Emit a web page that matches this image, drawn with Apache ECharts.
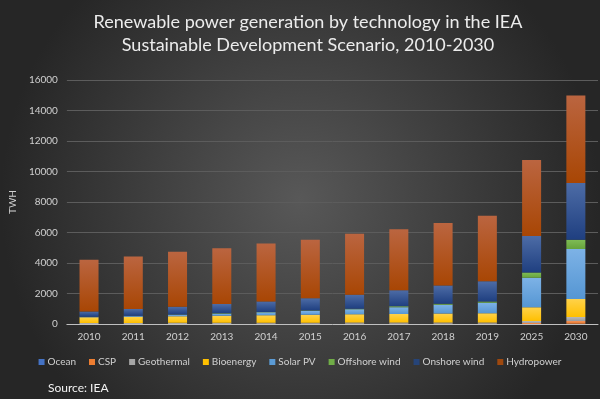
<!DOCTYPE html>
<html><head><meta charset="utf-8">
<script src="https://cdn.jsdelivr.net/npm/echarts@6/dist/echarts.min.js"></script>
<style>html,body{margin:0;padding:0;background:#333;}#c{width:600px;height:399px;}</style>
</head><body><div id="c"></div>
<script>
const years = ['2010','2011','2012','2013','2014','2015','2016','2017','2018','2019','2025','2030'];
const ocean      = [1, 1, 1, 1, 1, 1, 1, 1, 1, 1, 5, 20];
const csp        = [2, 3, 5, 6, 9, 10, 11, 12, 12, 13, 60, 180];
const geothermal = [68, 69, 70, 72, 75, 78, 80, 85, 88, 90, 130, 260];
const bioenergy  = [370, 400, 430, 460, 490, 510, 540, 560, 580, 600, 900, 1180];
const solarPV    = [32, 64, 100, 140, 190, 250, 330, 440, 580, 690, 1930, 3280];
const offshore   = [7, 12, 16, 21, 25, 40, 45, 60, 70, 80, 350, 610];
const onshore    = [340, 430, 510, 610, 690, 800, 910, 1060, 1200, 1330, 2400, 3720];
const hydropower = [3400, 3450, 3600, 3650, 3800, 3830, 4000, 4000, 4100, 4300, 4980, 5740];
const seriesNames = ['Ocean','CSP','Geothermal','Bioenergy','Solar PV','Offshore wind','Onshore wind','Hydropower'];
const seriesData = [ocean, csp, geothermal, bioenergy, solarPV, offshore, onshore, hydropower];
const yTicks = [0, 2000, 4000, 6000, 8000, 10000, 12000, 14000, 16000];

const solid = ['#4472C4','#ED7D31','#A5A5A5','#FFC000','#5B9BD5','#70AD47','#264478','#9E480E'];
const grads = [
  ['#5a84cf','#3b66b8'],
  ['#f5935a','#e8772a'],
  ['#b8b8b8','#9d9d9d'],
  ['#ffd24a','#ffbf00'],
  ['#7db2e6','#5596d3'],
  ['#7fbc55','#66a33c'],
  ['#4d6ca6','#1f3f80'],
  ['#bb6540','#a84604']
];

const chart = echarts.init(document.getElementById('c'));
chart.setOption({
  backgroundColor: new echarts.graphic.RadialGradient(0.5, 0.5, 0.75, [
    {offset: 0, color: '#585858'},
    {offset: 1, color: '#262626'}
  ]),
  textStyle: {fontFamily: 'Lato'},
  title: [{
    text: 'Renewable power generation by technology in the IEA\nSustainable Development Scenario, 2010-2030',
    left: 303, top: 6, textAlign: 'center',
    textStyle: {color: '#ececec', fontSize: 18, fontWeight: 'normal', fontFamily: 'Lato', lineHeight: 23}
  }, {
    text: 'Source: IEA',
    left: 43, top: 377,
    textStyle: {color: '#f2f2f2', fontSize: 12, fontWeight: 'normal', fontFamily: 'Lato'}
  }],
  legend: {
    top: 352, left: 'center',
    itemWidth: 6, itemHeight: 6, itemGap: 13,
    icon: 'rect',
    textStyle: {color: '#d0d0d0', fontSize: 10, fontFamily: 'Lato', padding: [0,0,0,-2]},
    data: seriesNames.map((n, i) => ({name: n, itemStyle: {color: solid[i]}}))
  },
  grid: {left: 58, right: 2, top: 80, bottom: 75},
  xAxis: {
    type: 'category', data: years,
    axisLine: {lineStyle: {color: '#c0c0c0'}},
    axisTick: {show: false},
    axisLabel: {color: '#d0d0d0', fontSize: 10, margin: 8}
  },
  yAxis: {
    type: 'value', min: yTicks[0], max: yTicks[yTicks.length-1], interval: 2000,
    name: 'TWH', nameLocation: 'middle', nameGap: 40, nameRotate: 90,
    nameTextStyle: {color: '#d0d0d0', fontSize: 10},
    axisLine: {show: false}, axisTick: {show: false},
    axisLabel: {color: '#d0d0d0', fontSize: 10, margin: 9, formatter: v => String(v)},
    splitLine: {lineStyle: {color: '#5c5c5c', width: 1}}
  },
  series: seriesNames.map((n, i) => ({
    name: n, type: 'bar', stack: 'total', barWidth: 19,
    data: seriesData[i],
    itemStyle: {color: new echarts.graphic.LinearGradient(0,0,0,1,[
      {offset: 0, color: grads[i][0]}, {offset: 1, color: grads[i][1]}])},
    emphasis: {disabled: true}
  }))
});
</script></body></html>
